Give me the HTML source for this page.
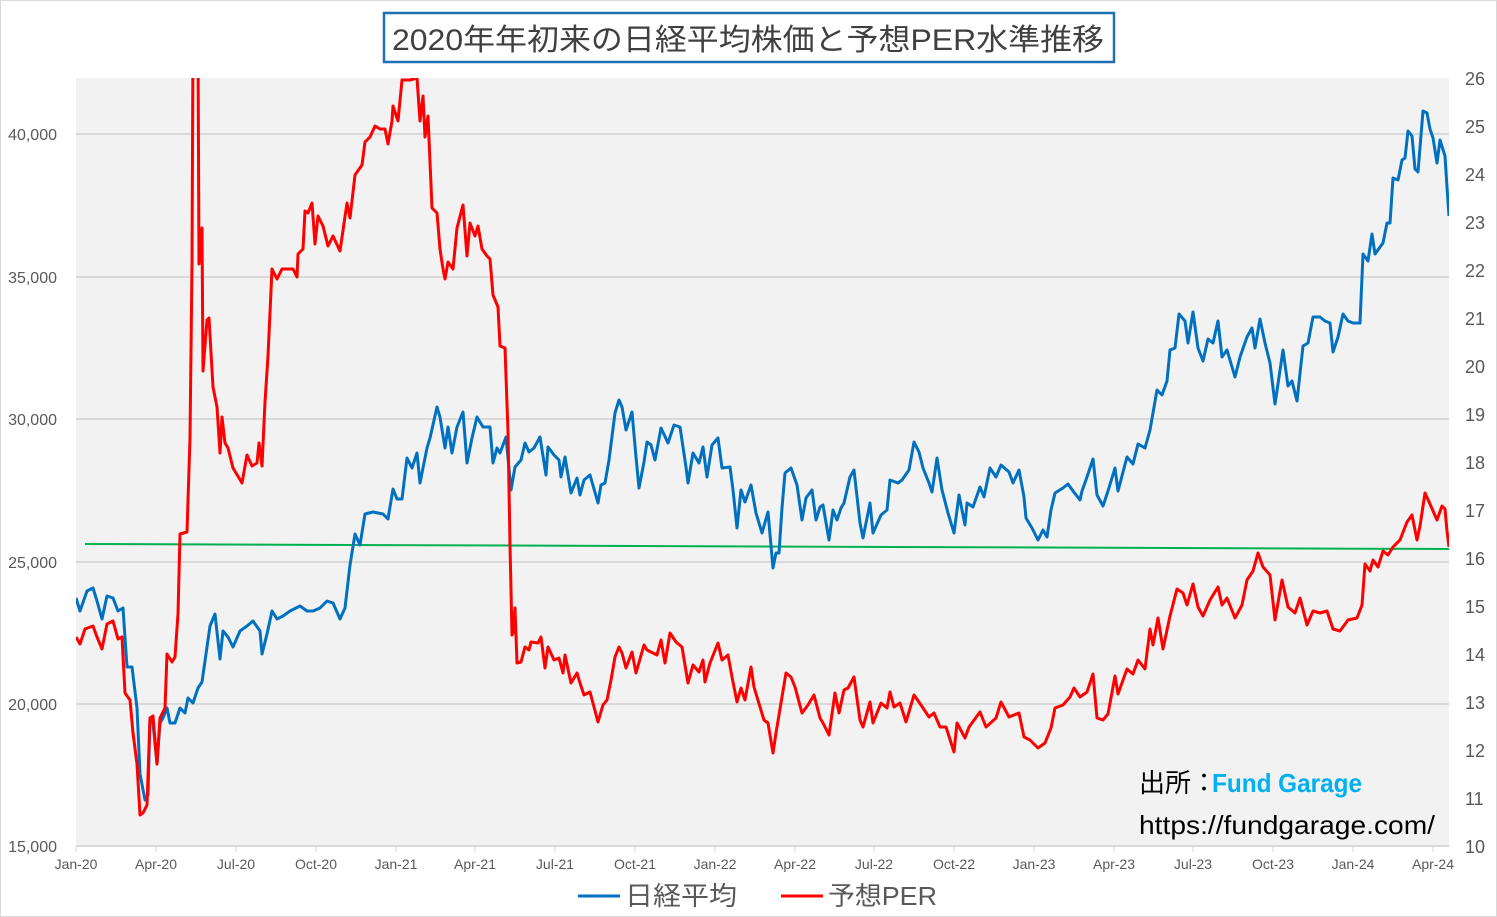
<!DOCTYPE html>
<html><head><meta charset="utf-8"><style>
body{margin:0;background:#fff;}
svg{display:block;font-family:"Liberation Sans","Noto Sans CJK JP",sans-serif;}
</style></head><body>
<svg width="1497" height="917" viewBox="0 0 1497 917" xmlns="http://www.w3.org/2000/svg">
<rect x="0.5" y="0.5" width="1496" height="916" fill="#fff" stroke="#d9d9d9"/>
<rect x="76" y="78" width="1373" height="768" fill="#f2f2f2"/>
<g stroke="#d9d9d9" stroke-width="2">
<line x1="76" y1="134" x2="1449" y2="134"/><line x1="76" y1="277" x2="1449" y2="277"/>
<line x1="76" y1="419" x2="1449" y2="419"/><line x1="76" y1="562" x2="1449" y2="562"/>
<line x1="76" y1="704" x2="1449" y2="704"/><line x1="76" y1="846" x2="1449" y2="846"/>
</g>
<g stroke="#d9d9d9" stroke-width="1">
<line x1="76" y1="846" x2="76" y2="852"/><line x1="156" y1="846" x2="156" y2="852"/><line x1="236" y1="846" x2="236" y2="852"/><line x1="316" y1="846" x2="316" y2="852"/><line x1="396" y1="846" x2="396" y2="852"/><line x1="475" y1="846" x2="475" y2="852"/><line x1="555" y1="846" x2="555" y2="852"/><line x1="635" y1="846" x2="635" y2="852"/><line x1="715" y1="846" x2="715" y2="852"/><line x1="795" y1="846" x2="795" y2="852"/><line x1="874" y1="846" x2="874" y2="852"/><line x1="954" y1="846" x2="954" y2="852"/><line x1="1034" y1="846" x2="1034" y2="852"/><line x1="1114" y1="846" x2="1114" y2="852"/><line x1="1193" y1="846" x2="1193" y2="852"/><line x1="1273" y1="846" x2="1273" y2="852"/><line x1="1353" y1="846" x2="1353" y2="852"/><line x1="1433" y1="846" x2="1433" y2="852"/>
</g>
<g font-size="16" fill="#595959" text-anchor="end">
<text x="57" y="140">40,000</text><text x="57" y="283">35,000</text><text x="57" y="425">30,000</text><text x="57" y="568">25,000</text><text x="57" y="710">20,000</text><text x="57" y="852">15,000</text>
</g>
<g font-size="18" fill="#595959" text-anchor="start">
<text x="1465" y="85">26</text><text x="1465" y="133">25</text><text x="1465" y="181">24</text><text x="1465" y="229">23</text><text x="1465" y="277">22</text><text x="1465" y="325">21</text><text x="1465" y="373">20</text><text x="1465" y="421">19</text><text x="1465" y="469">18</text><text x="1465" y="517">17</text><text x="1465" y="565">16</text><text x="1465" y="613">15</text><text x="1465" y="661">14</text><text x="1465" y="709">13</text><text x="1465" y="757">12</text><text x="1465" y="805">11</text><text x="1465" y="853">10</text>
</g>
<g font-size="14" fill="#595959" text-anchor="middle">
<text x="76" y="869">Jan-20</text><text x="156" y="869">Apr-20</text><text x="236" y="869">Jul-20</text><text x="316" y="869">Oct-20</text><text x="396" y="869">Jan-21</text><text x="475" y="869">Apr-21</text><text x="555" y="869">Jul-21</text><text x="635" y="869">Oct-21</text><text x="715" y="869">Jan-22</text><text x="795" y="869">Apr-22</text><text x="874" y="869">Jul-22</text><text x="954" y="869">Oct-22</text><text x="1034" y="869">Jan-23</text><text x="1114" y="869">Apr-23</text><text x="1193" y="869">Jul-23</text><text x="1273" y="869">Oct-23</text><text x="1353" y="869">Jan-24</text><text x="1433" y="869">Apr-24</text>
</g>
<line x1="85" y1="544" x2="1449" y2="549" stroke="#00b050" stroke-width="2"/>
<svg x="76" y="78" width="1373" height="768" viewBox="76 78 1373 768" overflow="hidden">
<polyline fill="none" stroke="#0070c0" stroke-width="3" stroke-linejoin="round" points="76,598 80,611 87,591 93,588 97,601 102,619 107,596 113,598 118,611 123,608 127,667 132,667 137,708 140,774 145,800 148,795 150,718 153,723 157,764 160,723 163,718 167,708 170,723 175,723 180,708 185,713 188,698 193,703 198,688 202,682 207,647 210,626 215,614 220,659 223,631 228,637 233,647 240,631 247,626 253,621 260,631 262,654 267,634 272,611 277,619 283,616 290,611 300,606 307,611 313,611 320,608 327,601 333,603 340,619 345,608 350,565 355,534 360,545 365,514 373,512 383,514 388,519 393,489 397,499 402,499 407,458 412,468 417,453 420,483 427,448 430,438 437,407 440,417 445,448 448,427 452,453 457,427 463,412 467,463 472,438 477,417 483,427 490,427 493,463 497,448 500,453 506,437 511,490 515,467 521,460 525,443 529,452 534,448 540,437 546,475 548,447 554,455 559,460 561,477 565,457 571,493 577,478 580,495 584,480 590,475 598,503 601,485 605,483 609,460 615,413 619,400 622,407 626,430 632,412 636,457 639,488 644,462 647,442 651,445 655,460 661,428 668,443 674,425 680,427 686,467 688,483 693,453 699,463 703,447 707,477 712,445 718,438 722,468 730,467 733,490 737,528 741,490 745,502 751,485 756,513 762,533 768,512 773,568 776,553 779,553 782,508 785,473 791,468 797,485 802,520 806,498 812,490 816,520 820,507 823,505 829,540 833,510 837,520 841,508 844,503 850,477 854,470 860,523 863,538 870,503 873,533 881,515 887,510 890,480 898,483 902,480 909,470 914,442 919,452 923,468 929,483 932,492 937,458 942,490 948,513 954,533 959,495 965,525 967,503 973,507 980,487 984,497 990,468 996,477 1001,465 1009,472 1013,483 1019,470 1024,497 1026,518 1032,528 1038,540 1043,530 1047,537 1051,510 1055,493 1063,488 1068,484 1073,491 1080,500 1082,491 1087,477 1093,459 1097,495 1103,506 1108,491 1115,468 1118,491 1127,457 1133,464 1138,444 1145,448 1150,430 1157,390 1162,395 1167,381 1170,350 1175,348 1179,314 1185,321 1188,343 1193,312 1198,348 1203,361 1208,339 1213,343 1218,321 1222,357 1227,350 1235,377 1240,357 1247,337 1252,328 1255,348 1260,319 1265,343 1270,363 1275,404 1278,384 1283,350 1288,386 1292,381 1297,401 1303,346 1308,343 1313,317 1320,317 1325,321 1330,323 1333,352 1338,337 1343,314 1348,321 1353,323 1360,323 1363,254 1368,261 1372,234 1375,254 1383,243 1387,223 1390,223 1393,178 1398,180 1402,160 1405,158 1408,131 1412,136 1415,169 1418,172 1423,111 1427,113 1430,129 1433,138 1437,163 1440,140 1445,156 1447,187 1449,216"/>
<polyline fill="none" stroke="#ff0000" stroke-width="3" stroke-linejoin="round" points="76,637 80,644 85,629 93,626 97,637 102,649 107,624 113,621 118,639 122,637 125,693 130,700 133,733 137,764 140,815 143,813 147,805 150,718 153,716 157,764 160,718 165,708 167,654 172,662 175,657 178,614 180,534 187,532 190,438 192,264 193,40 195,40 198,40 199,264 202,228 203,371 207,320 209,318 213,387 217,407 220,453 222,417 225,443 228,448 233,468 242,483 247,455 252,466 257,463 259,443 262,466 265,402 268,356 272,269 277,279 282,269 287,269 293,269 297,277 298,254 303,249 305,211 308,213 312,203 315,244 318,216 323,226 328,246 333,236 340,251 347,203 350,218 355,175 362,165 365,142 370,137 375,126 380,129 385,129 388,144 392,121 393,106 398,121 402,80 410,80 417,78 420,121 423,96 425,137 428,116 432,208 437,213 440,249 443,269 445,279 448,262 453,269 457,228 463,205 467,256 470,223 475,236 478,226 482,249 487,256 490,259 493,295 498,307 500,346 505,348 508,432 510,545 512,635 513,633 515,608 517,663 521,662 525,647 529,650 531,642 538,643 541,637 545,668 548,647 554,660 559,658 563,673 565,655 571,683 577,673 580,683 584,695 590,692 598,722 603,705 607,700 611,680 615,657 619,647 622,653 626,668 632,652 636,673 644,645 647,650 657,655 661,640 665,663 670,633 676,642 682,647 688,683 693,665 699,672 703,660 705,682 710,663 718,643 722,660 728,655 732,677 737,702 741,688 745,700 751,667 754,687 760,707 764,720 768,723 773,753 776,733 781,703 786,673 791,677 795,687 802,713 808,705 814,695 820,718 823,723 829,735 835,693 839,713 844,690 848,688 854,677 860,720 863,727 870,702 873,723 881,703 887,708 890,692 894,707 900,703 906,722 914,695 921,705 929,717 934,713 940,727 946,727 954,752 957,723 965,738 969,727 980,712 986,727 996,718 1001,702 1009,717 1019,713 1024,737 1030,740 1038,748 1045,743 1051,728 1055,708 1063,705 1070,697 1074,688 1080,697 1087,692 1093,674 1097,718 1103,720 1108,714 1115,676 1118,694 1127,669 1133,674 1138,660 1145,669 1150,629 1153,645 1158,618 1163,649 1170,616 1177,589 1183,593 1187,605 1193,584 1198,607 1203,616 1210,600 1218,587 1222,605 1227,598 1235,618 1242,605 1247,580 1253,571 1258,553 1263,567 1270,575 1275,620 1282,580 1288,607 1295,613 1300,598 1307,625 1313,611 1320,613 1327,611 1333,629 1340,631 1348,620 1357,618 1362,605 1365,564 1370,571 1373,560 1378,567 1383,551 1388,555 1393,547 1400,540 1407,522 1412,515 1417,540 1420,526 1425,493 1430,504 1437,520 1442,506 1445,509 1447,531 1449,547"/>
</svg>
<rect x="384" y="13" width="730" height="49" fill="#fff" stroke="#1f6fb5" stroke-width="2.5"/>
<text x="392" y="50" font-size="30" fill="#404040" textLength="712" lengthAdjust="spacingAndGlyphs">2020年年初来の日経平均株価と予想PER水準推移</text>
<text x="1139" y="792" font-size="26" fill="#000">出所：</text>
<text x="1212" y="792" font-size="26" fill="#00b0f0" font-weight="bold" textLength="150" lengthAdjust="spacingAndGlyphs">Fund Garage</text>
<text x="1139" y="834" font-size="26" fill="#000" textLength="296" lengthAdjust="spacingAndGlyphs">https://fundgarage.com/</text>
<line x1="578" y1="896" x2="620" y2="896" stroke="#0070c0" stroke-width="3"/>
<text x="625" y="905" font-size="26" fill="#595959" textLength="112" lengthAdjust="spacingAndGlyphs">日経平均</text>
<line x1="781" y1="896" x2="823" y2="896" stroke="#ff0000" stroke-width="3"/>
<text x="828" y="905" font-size="26" fill="#595959" textLength="109" lengthAdjust="spacingAndGlyphs">予想PER</text>
</svg>
</body></html>
